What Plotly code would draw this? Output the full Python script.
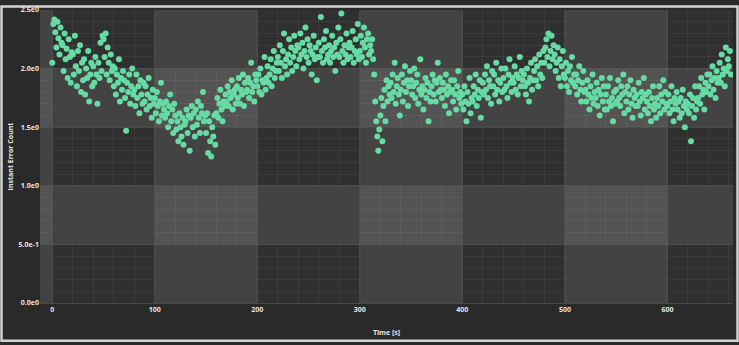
import plotly.graph_objects as go

# Sample times (s) and the measured instant error count at each second
time_s = list(range(0, 663))
error_count = [
    2.05, 2.38, 2.42, 2.31, 2.18, 2.40, 2.26, 2.12, 2.35, 2.22,
    2.20, 1.98, 2.30, 2.08, 2.17, 1.92, 2.25, 2.10, 1.88, 2.14,
    2.12, 1.95, 2.28, 2.02, 1.85, 2.15, 1.98, 2.20, 1.80, 2.05,
    1.90, 2.08, 1.78, 2.00, 1.92, 2.15, 1.72, 1.95, 2.05, 1.85,
    2.02, 1.88, 2.10, 1.95, 1.70, 2.05, 1.92, 2.22, 1.98, 2.28,
    2.25, 2.10, 2.30, 1.95, 2.18, 2.05, 1.90, 2.12, 1.98, 2.02,
    1.85, 2.00, 1.78, 1.95, 1.88, 2.08, 1.72, 1.92, 1.82, 1.98,
    1.90, 1.75, 1.47, 1.88, 1.80, 1.95, 1.70, 1.85, 2.00, 1.78,
    1.82, 1.68, 1.95, 1.75, 1.85, 1.62, 1.90, 1.78, 1.70, 1.88,
    1.72, 1.85, 1.65, 1.78, 1.92, 1.68, 1.75, 1.58, 1.82, 1.70,
    1.75, 1.62, 1.80, 1.68, 1.55, 1.72, 1.88, 1.60, 1.70, 1.65,
    1.58, 1.72, 1.62, 1.50, 1.68, 1.78, 1.55, 1.65, 1.45, 1.70,
    1.60, 1.48, 1.55, 1.38, 1.62, 1.50, 1.42, 1.58, 1.35, 1.52,
    1.55, 1.65, 1.45, 1.60, 1.30, 1.58, 1.68, 1.50, 1.62, 1.42,
    1.65, 1.52, 1.72, 1.58, 1.45, 1.68, 1.62, 1.80, 1.55, 1.60,
    1.45, 1.62, 1.28, 1.55, 1.38, 1.25, 1.50, 1.42, 1.60, 1.35,
    1.62, 1.75, 1.58, 1.70, 1.82, 1.65, 1.55, 1.72, 1.68, 1.78,
    1.72, 1.85, 1.68, 1.80, 1.75, 1.90, 1.65, 1.78, 1.82, 1.70,
    1.85, 1.75, 1.92, 1.70, 1.82, 1.78, 1.95, 1.68, 1.88, 1.80,
    1.82, 1.92, 1.75, 1.88, 2.05, 1.80, 1.85, 1.72, 1.95, 1.90,
    1.85, 1.95, 1.80, 2.00, 1.78, 1.90, 1.88, 2.10, 1.82, 1.92,
    2.02, 1.88, 1.95, 2.08, 1.85, 2.00, 2.15, 1.92, 1.98, 2.05,
    2.10, 1.98, 2.20, 2.05, 1.92, 2.15, 2.30, 2.02, 2.08, 1.95,
    2.12, 2.25, 2.05, 2.18, 1.98, 2.10, 2.28, 2.15, 2.02, 2.20,
    2.18, 2.08, 2.30, 2.12, 2.22, 2.00, 2.15, 2.35, 2.10, 2.25,
    2.05, 2.20, 2.15, 1.95, 2.12, 2.28, 2.08, 2.18, 1.90, 2.10,
    2.22, 2.10, 2.44, 2.15, 2.05, 2.25, 2.18, 2.32, 2.08, 2.12,
    2.20, 2.05, 2.15, 2.28, 2.10, 2.18, 1.98, 2.22, 2.12, 2.35,
    2.10, 2.25, 2.47, 2.15, 2.05, 2.20, 2.12, 2.30, 2.08, 2.18,
    2.22, 2.10, 2.18, 2.32, 2.05, 2.15, 2.25, 2.12, 2.38, 2.08,
    2.15, 2.28, 2.10, 2.22, 2.35, 2.18, 2.05, 2.25, 2.30, 2.12,
    2.20, 2.15, 2.25, 2.08, 1.95, 1.72, 1.55, 1.42, 1.30, 1.48,
    1.60, 1.75, 1.38, 1.68, 1.82, 1.55, 1.90, 1.72, 1.85, 1.78,
    1.88, 1.75, 1.95, 1.80, 2.05, 1.70, 1.85, 1.92, 1.78, 1.60,
    1.82, 1.95, 1.72, 1.88, 2.02, 1.80, 1.90, 1.68, 1.85, 1.98,
    1.90, 1.78, 1.85, 2.00, 1.75, 1.88, 1.95, 1.70, 1.82, 2.08,
    1.78, 1.85, 1.65, 1.82, 1.92, 1.75, 1.88, 1.55, 1.80, 1.72,
    1.85, 1.95, 1.78, 1.90, 1.72, 1.88, 2.05, 1.80, 1.92, 1.82,
    1.75, 1.88, 1.82, 1.68, 1.95, 1.78, 1.85, 1.62, 1.80, 1.90,
    1.82, 1.72, 1.90, 1.78, 1.65, 1.85, 1.98, 1.75, 1.80, 1.70,
    1.78, 1.65, 1.85, 1.72, 1.55, 1.80, 1.70, 1.92, 1.62, 1.75,
    1.72, 1.85, 1.78, 1.95, 1.68, 1.82, 1.75, 1.90, 1.58, 1.80,
    1.88, 1.78, 1.95, 1.82, 2.02, 1.75, 1.90, 1.85, 1.70, 1.98,
    1.85, 1.95, 1.78, 2.05, 1.82, 1.90, 1.72, 1.88, 2.00, 1.80,
    1.92, 1.82, 2.00, 1.85, 1.75, 1.95, 2.08, 1.88, 1.80, 1.92,
    1.88, 2.02, 1.82, 1.95, 1.78, 1.92, 2.10, 1.85, 1.98, 1.90,
    1.95, 1.85, 1.78, 2.00, 1.88, 1.72, 1.92, 2.05, 1.82, 1.90,
    1.98, 2.08, 1.90, 2.02, 1.85, 2.12, 1.95, 2.05, 1.92, 2.15,
    2.05, 2.18, 2.25, 2.10, 2.30, 2.02, 2.15, 2.28, 2.08, 2.20,
    2.12, 1.98, 2.05, 2.18, 1.92, 2.08, 1.85, 2.02, 2.15, 1.95,
    1.92, 2.05, 1.85, 1.98, 1.80, 2.02, 1.90, 2.10, 1.88, 1.95,
    1.85, 1.95, 1.78, 1.90, 2.02, 1.82, 1.72, 1.88, 1.98, 1.80,
    1.82, 1.72, 1.90, 1.78, 1.65, 1.85, 1.75, 1.95, 1.70, 1.80,
    1.75, 1.88, 1.68, 1.82, 1.60, 1.78, 1.92, 1.72, 1.85, 1.65,
    1.78, 1.65, 1.85, 1.72, 1.92, 1.68, 1.75, 1.55, 1.80, 1.70,
    1.82, 1.72, 1.90, 1.75, 1.68, 1.85, 1.78, 1.95, 1.62, 1.80,
    1.72, 1.85, 1.65, 1.78, 1.90, 1.70, 1.58, 1.82, 1.75, 1.68,
    1.78, 1.68, 1.88, 1.72, 1.60, 1.80, 1.75, 1.92, 1.65, 1.78,
    1.72, 1.62, 1.80, 1.68, 1.55, 1.75, 1.85, 1.65, 1.70, 1.58,
    1.75, 1.68, 1.85, 1.62, 1.78, 1.72, 1.90, 1.65, 1.80, 1.70,
    1.68, 1.78, 1.62, 1.72, 1.85, 1.65, 1.55, 1.75, 1.70, 1.80,
    1.65, 1.72, 1.58, 1.75, 1.62, 1.82, 1.68, 1.50, 1.72, 1.65,
    1.70, 1.62, 1.78, 1.38, 1.68, 1.75, 1.58, 1.85, 1.65, 1.72,
    1.75, 1.85, 1.70, 1.92, 1.78, 1.82, 1.65, 1.88, 1.80, 1.95,
    1.85, 1.95, 1.78, 1.90, 2.02, 1.82, 1.92, 1.75, 1.98, 1.88,
    1.92, 2.05, 1.88, 2.12, 1.95, 2.00, 1.85, 2.18, 1.98, 2.08,
    2.02, 2.15, 1.95,
]

# Axis ticks
x_ticks = [0, 100, 200, 300, 400, 500, 600]
x_ticktext = ["0", "100", "200", "300", "400", "500", "600"]
y_ticks = [0.0, 0.5, 1.0, 1.5, 2.0, 2.5]
y_ticktext = ["0.0e0", "5.0e-1", "1.0e0", "1.5e0", "2.0e0", "2.5e0"]

X_RANGE = [-12, 664]
Y_RANGE = [0, 2.5]

W, H = 739, 345
M = dict(l=40, r=6, t=5, b=42)

DARK = "#303030"
MIXED = "#434343"
LIGHT = "#535353"
MAJOR_GRID = "rgba(255,255,255,0.09)"
MINOR_GRID = "rgba(255,255,255,0.055)"
POINT = "#66dba4"
TEXT = "#e6e6e6"

# Alternating bands: columns between major x ticks and rows between major y ticks
x_edges = [X_RANGE[0]] + x_ticks + [X_RANGE[1]]
y_edges = y_ticks
x_cols = [(x_edges[i], x_edges[i + 1], i % 2 == 0) for i in range(len(x_edges) - 1)]
y_rows = [(y_edges[i], y_edges[i + 1], i % 2 == 1) for i in range(len(y_edges) - 1)]

shapes = []
for x0, x1, xb in x_cols:
    for y0, y1, yb in y_rows:
        if xb and yb:
            shapes.append(dict(type="rect", xref="x", yref="y", x0=x0, x1=x1, y0=y0, y1=y1,
                               fillcolor=LIGHT, line=dict(width=0), layer="below"))
        elif xb != yb:
            shapes.append(dict(type="rect", xref="x", yref="y", x0=x0, x1=x1, y0=y0, y1=y1,
                               fillcolor=MIXED, line=dict(width=0), layer="between"))

# Major grid lines on top of the band fills
for xv in x_ticks:
    shapes.append(dict(type="line", xref="x", yref="y", x0=xv, x1=xv, y0=Y_RANGE[0], y1=Y_RANGE[1],
                       line=dict(color=MAJOR_GRID, width=1), layer="between"))
for yv in y_ticks[1:-1]:
    shapes.append(dict(type="line", xref="x", yref="y", x0=X_RANGE[0], x1=X_RANGE[1], y0=yv, y1=yv,
                       line=dict(color=MAJOR_GRID, width=1), layer="between"))

# Outer frame of the chart panel
pw = W - M["l"] - M["r"]
ph = H - M["t"] - M["b"]
shapes.append(dict(type="rect", xref="paper", yref="paper",
                   x0=(1.5 - M["l"]) / pw, x1=(W - 1.5 - M["l"]) / pw,
                   y0=-(M["b"] - 3.5) / ph, y1=(H - 1.5 - M["b"]) / ph,
                   line=dict(color="#d4d4d4", width=2.5), fillcolor="rgba(0,0,0,0)", layer="above"))

fig = go.Figure()
fig.add_trace(go.Scatter(
    x=time_s, y=error_count, mode="markers",
    marker=dict(size=6, color=POINT, line=dict(width=0)),
    hoverinfo="skip", showlegend=False,
))

tick_font = dict(family="Open Sans", size=7, color=TEXT, weight="bold")

fig.update_layout(
    width=W, height=H, margin=M,
    paper_bgcolor="#2a2a2a", plot_bgcolor=DARK,
    shapes=shapes,
    showlegend=False,
    xaxis=dict(
        range=X_RANGE, tickmode="array", tickvals=x_ticks, ticktext=x_ticktext,
        showgrid=False, zeroline=False, showline=True, linecolor="#4a4a4a", linewidth=1,
        ticks="", tickfont=tick_font,
        minor=dict(dtick=20, tick0=0, showgrid=True, gridcolor=MINOR_GRID, gridwidth=1),
        title=dict(text="Time [s]", font=dict(family="Open Sans", size=7, color=TEXT, weight="bold"),
                   standoff=16),
    ),
    yaxis=dict(
        range=Y_RANGE, tickmode="array", tickvals=y_ticks, ticktext=y_ticktext,
        showgrid=False, zeroline=False, showline=False,
        ticks="", tickfont=tick_font,
        minor=dict(dtick=0.1, tick0=0, showgrid=True, gridcolor=MINOR_GRID, gridwidth=1),
        title=dict(text="Instant Error Count", font=dict(family="Open Sans", size=7, color=TEXT, weight="bold"),
                   standoff=4),
    ),
)

fig.write_html("out.html")
